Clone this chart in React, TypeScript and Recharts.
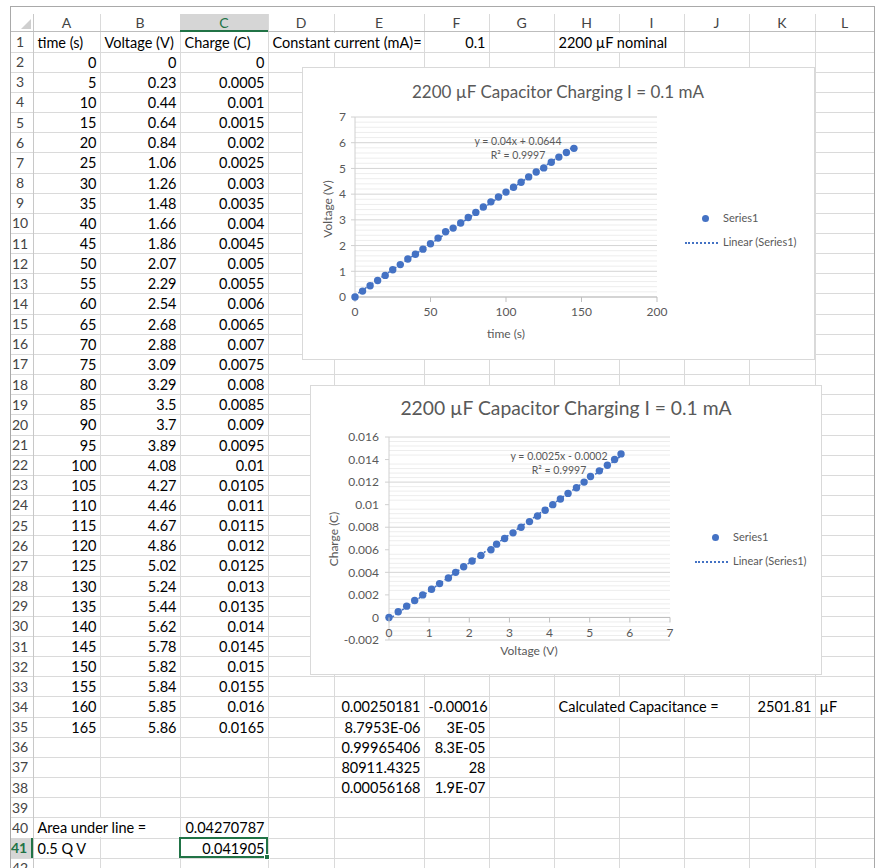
import React from 'react';
import { ScatterChart, Scatter, XAxis, YAxis, CartesianGrid, ReferenceLine } from 'recharts';

// sheet data (rows 2-35)
const times = [0, 5, 10, 15, 20, 25, 30, 35, 40, 45, 50, 55, 60, 65, 70, 75, 80, 85, 90, 95, 100, 105, 110, 115, 120, 125, 130, 135, 140, 145, 150, 155, 160, 165];
const voltages = [0, 0.23, 0.44, 0.64, 0.84, 1.06, 1.26, 1.48, 1.66, 1.86, 2.07, 2.29, 2.54, 2.68, 2.88, 3.09, 3.29, 3.5, 3.7, 3.89, 4.08, 4.27, 4.46, 4.67, 4.86, 5.02, 5.24, 5.44, 5.62, 5.78, 5.82, 5.84, 5.85, 5.86];
const charges = [0, 0.0005, 0.001, 0.0015, 0.002, 0.0025, 0.003, 0.0035, 0.004, 0.0045, 0.005, 0.0055, 0.006, 0.0065, 0.007, 0.0075, 0.008, 0.0085, 0.009, 0.0095, 0.01, 0.0105, 0.011, 0.0115, 0.012, 0.0125, 0.013, 0.0135, 0.014, 0.0145, 0.015, 0.0155, 0.016, 0.0165];
const plottedRows = 30; // charts use rows 2..31 (t = 0..145)

const headerLabels = ['time (s)', 'Voltage (V)', 'Charge (C)'];
const linestSlope = ['0.00250181', '8.7953E-06', '0.99965406', '80911.4325', '0.00056168'];
const linestIntercept = ['-0.00016', '3E-05', '8.3E-05', '28', '1.9E-07'];

const timeTicks = [0, 50, 100, 150, 200];
const voltTicks = [0, 1, 2, 3, 4, 5, 6, 7];
const chargeTicks = [-0.002, 0, 0.002, 0.004, 0.006, 0.008, 0.01, 0.012, 0.014, 0.016];

const colLetters = ['A', 'B', 'C', 'D', 'E', 'F', 'G', 'H', 'I', 'J', 'K', 'L'];
const COLS = [10, 33, 100, 180, 268, 334, 424, 489, 554, 619, 684, 749, 815, 874];
const HEAD_TOP = 14;
const HEAD_BOTTOM = 32;
const ROW_H = 20.15;
const ROWS = 42;

const FONT = 'Lato, "Open Sans", sans-serif';
const GRID = '#dadada';
const BLUE = '#4472C4';
const TXT = '#595959';

const rowTop = (r: number) => HEAD_BOTTOM + (r - 1) * ROW_H;

type Cell = { r: number; c: number; text: string | number; align?: 'left' | 'right'; span?: number };

const cells: Cell[] = [];
headerLabels.forEach((t, i) => cells.push({ r: 1, c: i, text: t, align: 'left' }));
cells.push({ r: 1, c: 3, text: 'Constant current (mA)=', align: 'left', span: 2 });
cells.push({ r: 1, c: 5, text: '0.1', align: 'right' });
cells.push({ r: 1, c: 7, text: '2200 µF nominal', align: 'left', span: 2 });
times.forEach((t, i) => {
  cells.push({ r: i + 2, c: 0, text: t, align: 'right' });
  cells.push({ r: i + 2, c: 1, text: voltages[i], align: 'right' });
  cells.push({ r: i + 2, c: 2, text: charges[i], align: 'right' });
});
linestSlope.forEach((t, i) => cells.push({ r: 34 + i, c: 4, text: t, align: 'right' }));
linestIntercept.forEach((t, i) => cells.push({ r: 34 + i, c: 5, text: t, align: 'right' }));
cells.push({ r: 34, c: 7, text: 'Calculated Capacitance =', align: 'left', span: 3 });
cells.push({ r: 34, c: 10, text: '2501.81', align: 'right' });
cells.push({ r: 34, c: 11, text: 'µF', align: 'left' });
cells.push({ r: 40, c: 0, text: 'Area under line =', align: 'left', span: 2 });
cells.push({ r: 40, c: 2, text: '0.04270787', align: 'right' });
cells.push({ r: 41, c: 0, text: '0.5 Q V', align: 'left' });
cells.push({ r: 41, c: 2, text: '0.041905', align: 'right' });

function fit(xs: number[], ys: number[]) {
  const n = xs.length;
  const mx = xs.reduce((a, b) => a + b, 0) / n;
  const my = ys.reduce((a, b) => a + b, 0) / n;
  let sxy = 0, sxx = 0;
  xs.forEach((x, i) => { sxy += (x - mx) * (ys[i] - my); sxx += (x - mx) ** 2; });
  const m = sxy / sxx;
  return { m, b: my - m * mx };
}

const dot = (p: any) => <circle cx={p.cx} cy={p.cy} r={3.7} fill={BLUE} />;
const noDot = () => <g />;

const Sheet = () => {
  const nodes: React.ReactNode[] = [];
  // horizontal lines
  for (let r = 1; r <= ROWS; r++) {
    nodes.push(<div key={'h' + r} style={{ position: 'absolute', left: COLS[0], width: COLS[13] - COLS[0], top: rowTop(r + 1) - 0.5, height: 1, background: GRID }} />);
  }
  // vertical lines
  for (let b = 1; b < COLS.length - 1; b++) {
    nodes.push(<div key={'v' + b} style={{ position: 'absolute', left: COLS[b] - 0.5, width: 1, top: HEAD_TOP, height: 868 - HEAD_TOP, background: b === 1 ? '#c8c8c8' : GRID }} />);
  }
  // header row
  nodes.push(<div key="hb" style={{ position: 'absolute', left: COLS[0], width: COLS[13] - COLS[0], top: HEAD_BOTTOM - 1, height: 1, background: '#bdbdbd' }} />);
  colLetters.forEach((l, i) => {
    const sel = l === 'C';
    nodes.push(
      <div key={'c' + l} style={{ position: 'absolute', left: COLS[i + 1], width: COLS[i + 2] - COLS[i + 1], top: HEAD_TOP, height: HEAD_BOTTOM - HEAD_TOP, lineHeight: `${HEAD_BOTTOM - HEAD_TOP}px`, textAlign: 'center', color: sel ? '#217346' : '#444', background: sel ? '#d6d6d6' : 'transparent', borderBottom: sel ? '2px solid #217346' : undefined, boxSizing: 'border-box', fontSize: 14 }}>{l}</div>
    );
  });
  // row numbers
  for (let r = 1; r <= ROWS; r++) {
    const sel = r === 41;
    nodes.push(
      <div key={'r' + r} style={{ position: 'absolute', left: COLS[0], width: COLS[1] - COLS[0], top: rowTop(r), height: ROW_H, lineHeight: `${ROW_H}px`, textAlign: 'center', paddingRight: 3, color: sel ? '#217346' : '#444', background: sel ? '#d6d6d6' : 'transparent', borderRight: sel ? '2px solid #217346' : undefined, boxSizing: 'border-box', fontSize: 14, fontWeight: sel ? 700 : 400 }}>{r}</div>
    );
  }
  // corner triangle
  nodes.push(
    <svg key="tri" style={{ position: 'absolute', left: 20, top: 18 }} width={12} height={12}>
      <polygon points="11,1 11,11 1,11" fill="#cfcfcf" />
    </svg>
  );
  // cells
  cells.forEach((cell, i) => {
    const left = COLS[cell.c + 1];
    const right = COLS[cell.c + 1 + (cell.span || 1)];
    nodes.push(
      <div key={'x' + i} style={{ position: 'absolute', left: left + 0.5, width: right - left - 1, top: rowTop(cell.r) + 0.5, height: ROW_H - 1, lineHeight: `${ROW_H}px`, textAlign: cell.align, padding: '0 3px 0 4px', boxSizing: 'border-box', whiteSpace: 'nowrap', background: cell.span ? '#fff' : 'transparent', fontSize: 14.5, color: '#000' }}>{cell.text}</div>
    );
  });
  // selected cell C41
  nodes.push(<div key="sel" style={{ position: 'absolute', left: COLS[3] - 1, width: COLS[4] - COLS[3] + 1, top: rowTop(41) - 1, height: ROW_H + 1, border: '2px solid #217346', boxSizing: 'border-box' }} />);
  nodes.push(<div key="selh" style={{ position: 'absolute', left: COLS[4] - 4, width: 6, top: rowTop(42) - 4, height: 6, background: '#217346', border: '1px solid #fff', boxSizing: 'border-box' }} />);
  // outer frame
  nodes.push(<div key="frame" style={{ position: 'absolute', left: COLS[0], top: 6, width: COLS[13] - COLS[0] + 1, height: 868, border: '1px solid #a9a9a9', borderBottom: 'none', boxSizing: 'border-box' }} />);
  return <>{nodes}</>;
};

const Legend = ({ left, top }: { left: number; top: number }) => (
  <div style={{ position: 'absolute', left, top, fontSize: 11, color: TXT, fontFamily: FONT }}>
    <div style={{ position: 'absolute', left: 14, top: -4, width: 7, height: 7, borderRadius: 4, background: BLUE }} />
    <div style={{ position: 'absolute', left: 35, top: -8, whiteSpace: 'nowrap' }}>Series1</div>
    <div style={{ position: 'absolute', left: -3, top: 23, width: 33, borderTop: `2px dotted ${BLUE}` }} />
    <div style={{ position: 'absolute', left: 35, top: 16, whiteSpace: 'nowrap' }}>Linear (Series1)</div>
  </div>
);

const ChartBox = ({ left, top, width, height, children }: any) => (
  <div style={{ position: 'absolute', left, top, width, height, background: '#fff', border: '1px solid #d9d9d9', boxSizing: 'border-box', fontFamily: FONT }}>{children}</div>
);

const Overlay = ({ x, y, size, children, rotate }: any) => (
  <div style={{ position: 'absolute', left: x, top: y, transform: `translate(-50%, -50%)${rotate ? ' rotate(-90deg)' : ''}`, fontSize: size, color: TXT, whiteSpace: 'nowrap', lineHeight: 1 }}>{children}</div>
);

const VoltageChart = () => {
  const pts = times.slice(0, plottedRows).map((t, i) => ({ x: t, y: voltages[i] }));
  const f = fit(pts.map(p => p.x), pts.map(p => p.y));
  const x0 = pts[0].x, x1 = pts[pts.length - 1].x;
  const trend = [{ x: x0, y: f.m * x0 + f.b }, { x: x1, y: f.m * x1 + f.b }];
  const minor: number[] = [];
  for (let i = 1; i < 35; i++) if (i % 5 !== 0) minor.push(i * 0.2);
  const W = 513, H = 293;
  return (
    <ChartBox left={302} top={67} width={W} height={H}>
      <ScatterChart width={W - 2} height={H - 2} margin={{ top: 49, right: 157, bottom: 0, left: 0 }}>
        <CartesianGrid vertical={false} stroke="#d4d4d4" />
        {minor.map(v => <ReferenceLine key={v} y={v} stroke="#ededed" ifOverflow="hidden" />)}
        <XAxis type="number" dataKey="x" domain={[0, 200]} ticks={timeTicks} height={62} tickSize={5} tickMargin={5} stroke="#bfbfbf" tick={{ fill: TXT, fontSize: 12 }} />
        <YAxis type="number" dataKey="y" domain={[0, 7]} ticks={voltTicks} width={52} tickSize={4} tickMargin={5} stroke="#d0d0d0" tick={{ fill: TXT, fontSize: 12 }} />
        <Scatter data={trend} line={{ stroke: BLUE, strokeWidth: 1.5, strokeDasharray: '2 2' }} shape={noDot} isAnimationActive={false} />
        <Scatter data={pts} shape={dot} isAnimationActive={false} />
      </ScatterChart>
      <Overlay x={255} y={23} size={17}>2200 µF Capacitor Charging I = 0.1 mA</Overlay>
      <Overlay x={25} y={141} size={12} rotate>Voltage (V)</Overlay>
      <Overlay x={203} y={266} size={12}>time (s)</Overlay>
      <Overlay x={215} y={73} size={10.5}>y = 0.04x + 0.0644</Overlay>
      <Overlay x={215} y={87} size={10.5}>R² = 0.9997</Overlay>
      <Legend left={385} top={151} />
    </ChartBox>
  );
};

const ChargeChart = () => {
  const pts = voltages.slice(0, plottedRows).map((v, i) => ({ x: v, y: charges[i] }));
  const f = fit(pts.map(p => p.x), pts.map(p => p.y));
  const x0 = pts[0].x, x1 = pts[pts.length - 1].x;
  const trend = [{ x: x0, y: f.m * x0 + f.b }, { x: x1, y: f.m * x1 + f.b }];
  const minor: number[] = [];
  for (let i = 1; i < 45; i++) if (i % 5 !== 0) minor.push(-0.002 + i * 0.0004);
  const W = 512, H = 290;
  const top = 51, bottom = 34;
  const plotH = H - 2 - top - bottom;
  const zeroOff = plotH * (0 - chargeTicks[0]) / (chargeTicks[chargeTicks.length - 1] - chargeTicks[0]);
  const CrossTick = ({ x, y, payload }: any) => (
    <g>
      <line x1={x} x2={x} y1={y - zeroOff} y2={y - zeroOff + 5} stroke="#bfbfbf" />
      <text x={x} y={y - 3} textAnchor="middle" fill={TXT} fontSize={12}>{payload.value}</text>
    </g>
  );
  return (
    <ChartBox left={310} top={385} width={W} height={H}>
      <ScatterChart width={W - 2} height={H - 2} margin={{ top, right: 151, bottom: 0, left: 0 }}>
        <CartesianGrid vertical={false} stroke="#d4d4d4" />
        {minor.map(v => <ReferenceLine key={v} y={v} stroke="#ededed" ifOverflow="hidden" />)}
        <ReferenceLine y={0} stroke="#bfbfbf" />
        <XAxis type="number" dataKey="x" domain={[0, 7]} ticks={voltTicks} height={bottom} tickSize={0} tickMargin={0} axisLine={false} tickLine={false} tick={<CrossTick />} />
        <YAxis type="number" dataKey="y" domain={[-0.002, 0.016]} ticks={chargeTicks} width={78} tickSize={4} tickMargin={6} stroke="#d0d0d0" tick={{ fill: TXT, fontSize: 12 }} />
        <Scatter data={trend} line={{ stroke: BLUE, strokeWidth: 1.5, strokeDasharray: '2 2' }} shape={noDot} isAnimationActive={false} />
        <Scatter data={pts} shape={dot} isAnimationActive={false} />
      </ScatterChart>
      <Overlay x={255} y={22} size={19.3}>2200 µF Capacitor Charging I = 0.1 mA</Overlay>
      <Overlay x={23} y={153} size={12} rotate>Charge (C)</Overlay>
      <Overlay x={218} y={265} size={12}>Voltage (V)</Overlay>
      <Overlay x={248} y={70} size={10.5}>y = 0.0025x - 0.0002</Overlay>
      <Overlay x={248} y={84} size={10.5}>R² = 0.9997</Overlay>
      <Legend left={387} top={152} />
    </ChartBox>
  );
};

export default function App() {
  return (
    <div style={{ position: 'absolute', left: 0, top: 0, width: 876, height: 868, overflow: 'hidden', background: '#fff', fontFamily: FONT }}>
      <Sheet />
      <VoltageChart />
      <ChargeChart />
    </div>
  );
}
